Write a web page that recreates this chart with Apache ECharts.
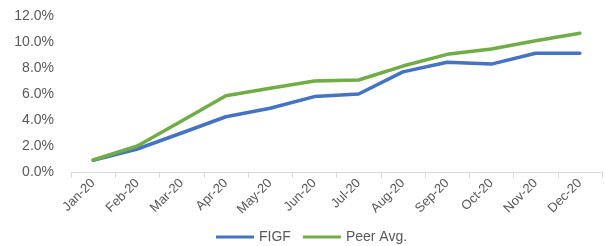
<!DOCTYPE html>
<html>
<head>
<meta charset="utf-8">
<script src="https://cdn.jsdelivr.net/npm/echarts@6/dist/echarts.min.js"></script>
<style>
    html, body { margin: 0; padding: 0; background: #fff; }
    #chart { width: 605px; height: 246px; }
</style>
</head>
<body>
<div id="chart"></div>
<script>
var months = ['Jan-20', 'Feb-20', 'Mar-20', 'Apr-20', 'May-20', 'Jun-20',
    'Jul-20', 'Aug-20', 'Sep-20', 'Oct-20', 'Nov-20', 'Dec-20'];
var figf = [0.9, 1.77, 3.0, 4.25, 4.9, 5.8, 6.0, 7.7, 8.44, 8.3, 9.13, 9.13];
var peerAvg = [0.92, 2.0, 3.93, 5.87, 6.44, 7.0, 7.08, 8.15, 9.05, 9.46, 10.1, 10.67];

var textColor = '#595959';
var font = '"Liberation Sans", Arial, sans-serif';

var chart = echarts.init(document.getElementById('chart'), null, {renderer: 'canvas'});
chart.setOption({
    animation: false,
    grid: {
        left: 71,
        right: 3,
        top: 16,
        bottom: 74
    },
    legend: {
        left: 211,
        top: 225,
        icon: 'rect',
        itemWidth: 38,
        itemHeight: 3,
        itemGap: 12,
        textStyle: {
            color: textColor,
            fontSize: 14,
            fontFamily: font
        },
        data: ['FIGF', 'Peer Avg.']
    },
    xAxis: {
        type: 'category',
        data: months,
        boundaryGap: true,
        axisLine: {lineStyle: {color: '#d9d9d9', width: 1}},
        axisTick: {show: true, length: 6, lineStyle: {color: '#d9d9d9'}},
        axisLabel: {
            rotate: 45,
            color: textColor,
            fontSize: 13,
            fontFamily: font,
            margin: 9
        },
        splitLine: {show: false}
    },
    yAxis: {
        type: 'value',
        min: 0,
        max: 12,
        interval: 2,
        axisLine: {show: false},
        axisTick: {show: false},
        splitLine: {show: false},
        axisLabel: {
            color: textColor,
            fontSize: 14,
            fontFamily: font,
            margin: 17,
            formatter: function (v) { return v.toFixed(1) + '%'; }
        }
    },
    series: [
        {
            name: 'FIGF',
            type: 'line',
            data: figf,
            symbol: 'none',
            lineStyle: {color: '#4472C4', width: 3.5, cap: 'round', join: 'round'},
            itemStyle: {color: '#4472C4'}
        },
        {
            name: 'Peer Avg.',
            type: 'line',
            data: peerAvg,
            symbol: 'none',
            lineStyle: {color: '#70AD47', width: 3.5, cap: 'round', join: 'round'},
            itemStyle: {color: '#70AD47'}
        }
    ]
});
</script>
</body>
</html>
